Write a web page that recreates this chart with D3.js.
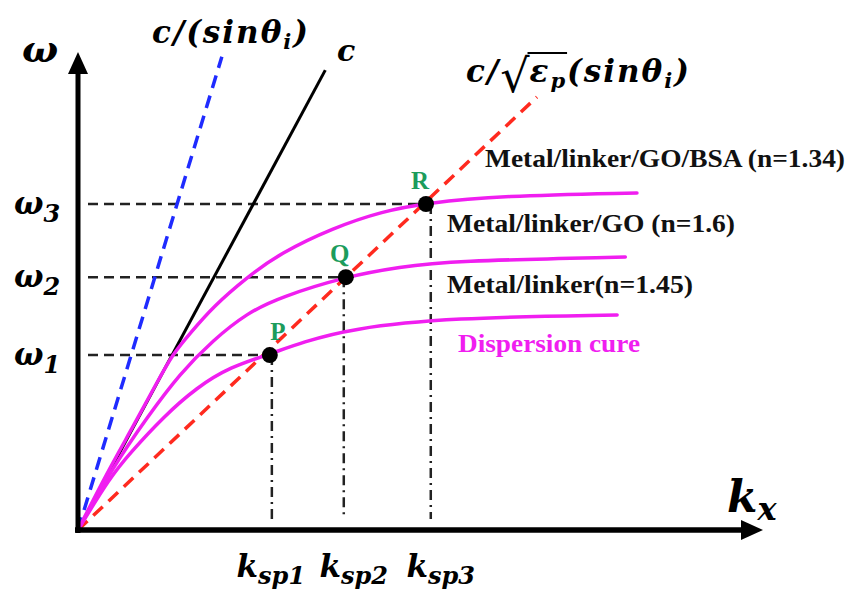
<!DOCTYPE html>
<html>
<head>
<meta charset="utf-8">
<script src="https://cdn.jsdelivr.net/npm/d3@7"></script>
<style>
  body { margin: 0; background: #fff; }
  svg { display: block; }
  .math { font-family: "DejaVu Serif", serif; font-weight: bold; font-style: italic; }
  .lbl { font-family: "Liberation Serif", "Times New Roman", serif; font-weight: bold; }
</style>
</head>
<body>
<svg id="svg" width="849" height="596"></svg>
<script>
// dispersion curves (kx, omega in arbitrary units 0..10)
const curveTop = [[0,0],[0.42,1.19],[0.80,2.15],[1.15,3.08],[1.39,3.70],[1.64,4.12],[1.97,4.67],[2.47,5.29],[2.95,5.79],[3.72,6.32],[4.45,6.67],[5.08,6.84],[6.16,6.99],[8.16,7.05]]
const curveMid = [[0,0],[0.51,1.32],[1.01,2.36],[1.49,3.28],[1.97,3.97],[2.47,4.54],[2.95,4.87],[3.93,5.31],[4.70,5.50],[5.43,5.63],[7.99,5.71]]
const curveLow = [[0,0],[0.47,1.11],[0.76,1.61],[1.24,2.36],[1.74,2.99],[2.22,3.41],[2.80,3.68],[3.28,3.93],[3.97,4.21],[5.43,4.44],[7.87,4.50]]

// light lines from the origin: end points
const lightLines = [
  {name: "sin", end: [2.10, 9.90], color: "#1f2bff", dash: "13,8", width: 3.5},
  {name: "c", end: [3.61, 9.62], color: "#000", dash: null, width: 3},
  {name: "sp", end: [6.70, 9.06], color: "#ff2a1f", dash: "13,8", width: 3.5}
]

// coupling points
const pointNames = ["P", "Q", "R"]
const pointK = [2.80, 3.91, 5.08]
const pointW = [3.66, 5.29, 6.82]
const kspK = [2.83, 3.88, 5.15]
const omegaSubs = ["1", "2", "3"]
const kspSubs = ["sp1", "sp2", "sp3"]

const curveNames = ["Metal/linker(n=1.45)", "Metal/linker/GO (n=1.6)", "Metal/linker/GO/BSA (n=1.34)"]

const svg = d3.select("#svg")
const width = 849, height = 596

const x = d3.scaleLinear().domain([0, 10]).range([78, 763])
const y = d3.scaleLinear().domain([0, 10]).range([530, 52])

svg.append("rect").attr("width", width).attr("height", height).attr("fill", "#fff")

const magenta = "#f01ef0"
const green = "#1c9c5c"

// guide lines to the points
const guides = svg.append("g")
guides.selectAll("line.h")
  .data(pointW)
  .join("line")
    .attr("class", "h")
    .attr("x1", x(0) + 10)
    .attr("x2", (d, i) => x(pointK[i]))
    .attr("y1", d => y(d))
    .attr("y2", d => y(d))
    .attr("stroke", "#222")
    .attr("stroke-width", 2.5)
    .attr("stroke-dasharray", "10,6")

guides.selectAll("line.v")
  .data(kspK)
  .join("line")
    .attr("class", "v")
    .attr("x1", d => x(d))
    .attr("x2", d => x(d))
    .attr("y1", (d, i) => y(pointW[i]))
    .attr("y2", y(0.23))
    .attr("stroke", "#222")
    .attr("stroke-width", 2.5)
    .attr("stroke-dasharray", "10,5,2,5")

// light lines
svg.append("g").selectAll("line")
  .data(lightLines)
  .join("line")
    .attr("x1", x(0))
    .attr("y1", y(0))
    .attr("x2", d => x(d.end[0]))
    .attr("y2", d => y(d.end[1]))
    .attr("stroke", d => d.color)
    .attr("stroke-width", d => d.width)
    .attr("stroke-dasharray", d => d.dash)

// dispersion curves
const line = d3.line().x(d => x(d[0])).y(d => y(d[1])).curve(d3.curveBasis)
svg.append("g").selectAll("path")
  .data([curveLow, curveMid, curveTop])
  .join("path")
    .attr("d", line)
    .attr("fill", "none")
    .attr("stroke", magenta)
    .attr("stroke-width", 3.5)
    .attr("stroke-linecap", "round")

// axes with arrows
const axes = svg.append("g")
axes.append("line")
  .attr("x1", x(0)).attr("y1", y(0) + 3)
  .attr("x2", x(0)).attr("y2", y(10) + 14)
  .attr("stroke", "#000").attr("stroke-width", 5)
axes.append("path")
  .attr("d", `M${x(0)},${y(10)} L${x(0) - 10},${y(10) + 22} L${x(0) + 10},${y(10) + 22} Z`)
axes.append("line")
  .attr("x1", x(0) - 3).attr("y1", y(0))
  .attr("x2", x(10) - 14).attr("y2", y(0))
  .attr("stroke", "#000").attr("stroke-width", 5.5)
axes.append("path")
  .attr("d", `M${x(10)},${y(0)} L${x(10) - 22},${y(0) - 10} L${x(10) - 22},${y(0) + 10} Z`)

// points
svg.append("g").selectAll("circle")
  .data(pointK)
  .join("circle")
    .attr("cx", d => x(d))
    .attr("cy", (d, i) => y(pointW[i]))
    .attr("r", 8)
    .attr("fill", "#000")

svg.append("g").selectAll("text")
  .data(pointNames)
  .join("text")
    .attr("class", "lbl")
    .attr("x", (d, i) => x(pointK[i]) + [8, -6, -6][i])
    .attr("y", (d, i) => y(pointW[i]) - 15)
    .attr("text-anchor", "middle")
    .attr("font-size", 25)
    .attr("fill", green)
    .text(d => d)

// math helper: base glyph + subscript
function mathLabel(g, px, py, base, sub, size, subSize, subDy) {
  const t = g.append("text").attr("class", "math").attr("x", px).attr("y", py)
  t.append("tspan").attr("font-size", size).text(base)
  if (sub) t.append("tspan").attr("font-size", subSize).attr("dy", subDy).text(sub)
  return t
}

const labels = svg.append("g")
mathLabel(labels, 22, 62, "ω", null, 38)
omegaSubs.forEach((s, i) => mathLabel(labels, 14, y(pointW[i]) + 10, "ω", s, 31, 24, 8))
const kspShift = [-1, 10, 10]
kspSubs.forEach((s, i) => mathLabel(labels, x(kspK[i]) + kspShift[i], 577, "k", s, 31, 24, 7).attr("text-anchor", "middle"))
mathLabel(labels, 727, 512, "k", "x", 44, 32, 8)

// c/(sin theta_i)
const t1 = labels.append("text").attr("class", "math").attr("x", 152).attr("y", 43)
  .attr("font-size", 31).attr("letter-spacing", 2)
t1.append("tspan").text("c/(sinθ")
t1.append("tspan").attr("font-size", 21).attr("dy", 6).text("i")
t1.append("tspan").attr("dy", -6).text(")")

labels.append("text").attr("class", "math").attr("x", 337).attr("y", 61).attr("font-size", 30).text("c")

// c/sqrt(eps_p)(sin theta_i)
const t2 = labels.append("text").attr("class", "math").attr("x", 466).attr("y", 82)
  .attr("font-size", 31).attr("letter-spacing", 2)
t2.append("tspan").text("c/")
t2.append("tspan").attr("font-style", "normal").attr("font-weight", "normal").attr("font-size", 46).attr("dy", 10).attr("letter-spacing", 0).text("√")
t2.append("tspan").attr("dy", -10).text("ε")
t2.append("tspan").attr("font-size", 21).attr("dy", 6).text("p")
t2.append("tspan").attr("dy", -6).text("(sinθ")
t2.append("tspan").attr("font-size", 21).attr("dy", 6).text("i")
t2.append("tspan").attr("dy", -6).text(")")
const n2 = t2.node()
const sx = n2.getStartPositionOfChar(3).x
const ex = n2.getEndPositionOfChar(4).x
labels.append("line")
  .attr("x1", sx - 2).attr("x2", ex)
  .attr("y1", 53).attr("y2", 53)
  .attr("stroke", "#000").attr("stroke-width", 2)

// curve labels
const curveLabelPos = [[447, 293], [447, 232], [485, 167]]
const curveLabelLen = [246, 288, 360]
labels.selectAll("text.cl")
  .data(curveNames)
  .join("text")
    .attr("class", "lbl cl")
    .attr("x", (d, i) => curveLabelPos[i][0])
    .attr("y", (d, i) => curveLabelPos[i][1])
    .attr("font-size", 25)
    .attr("textLength", (d, i) => curveLabelLen[i])
    .attr("lengthAdjust", "spacingAndGlyphs")
    .attr("fill", "#111")
    .text(d => d)

labels.append("text")
  .attr("class", "lbl")
  .attr("x", 458).attr("y", 352)
  .attr("font-size", 25)
  .attr("textLength", 182)
  .attr("lengthAdjust", "spacingAndGlyphs")
  .attr("fill", magenta)
  .text("Dispersion cure")
</script>
</body>
</html>
